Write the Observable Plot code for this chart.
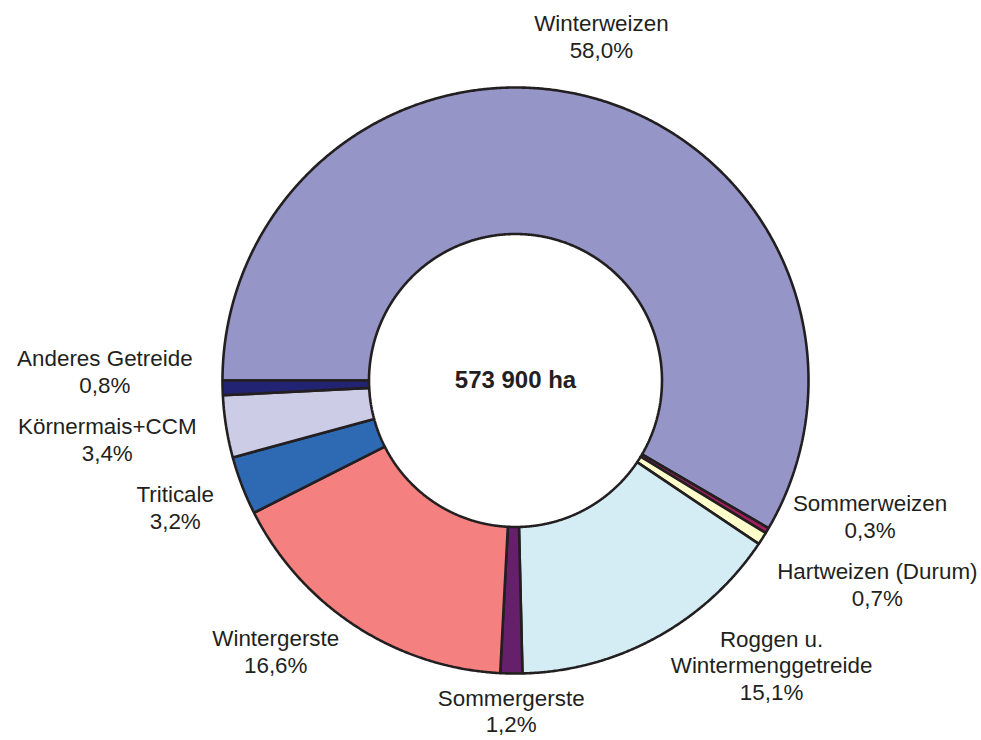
<!DOCTYPE html>
<html><head><meta charset="utf-8">
<script src="https://cdn.jsdelivr.net/npm/d3@7"></script>
<script src="https://cdn.jsdelivr.net/npm/@observablehq/plot@0.6"></script>
<style>
body{margin:0;background:#fff;}
#chart{width:981px;height:740px;}
</style>
</head><body><div id="chart"></div>
<script>
// ---- data ----
const categories = ["Winterweizen","Sommerweizen","Hartweizen (Durum)","Roggen u. Wintermenggetreide","Sommergerste","Wintergerste","Triticale","Körnermais+CCM","Anderes Getreide"];
const labelNames = ["Winterweizen","Sommerweizen","Hartweizen (Durum)","Roggen u.\nWintermenggetreide","Sommergerste","Wintergerste","Triticale","Körnermais+CCM","Anderes Getreide"];
const shares = [58.0, 0.3, 0.7, 15.1, 1.2, 16.6, 3.2, 3.4, 0.8];
const colors = ["#9595c8","#a0205f","#ffffcc","#d4ecf3","#66206b","#f48080","#2e69b4","#cdcce6","#232373"];
const totalLabel = ["573 900 ha"];

// ---- layout helpers ----
const W = 981, H = 740;
const mL = 222, mR = 173, mT = 87, mB = 67;
const pxPerUnit = (W - mL - mR) / 2;   // one unit = outer radius
const innerR = 0.5;
const fontSize = 22.4, lineH = 1.2;
const fontFamily = "'Liberation Sans', Arial, sans-serif";

const ctx = document.createElement("canvas").getContext("2d");
ctx.font = `${fontSize}px ${fontFamily}`;
const textWidth = t => Math.max(...t.split("\n").map(l => ctx.measureText(l).width));

const rows = categories.map((name, i) => ({name, label: labelNames[i], share: shares[i]}));
const arcs = d3.pie().sort(null).value(d => d.share)
  .startAngle(-Math.PI / 2).endAngle(3 * Math.PI / 2)(rows);

// ring polygons
const poly = [];
for (const a of arcs) {
  const n = Math.max(2, Math.ceil((a.endAngle - a.startAngle) / 0.005));
  for (let i = 0; i <= n; i++) {
    const t = a.startAngle + (a.endAngle - a.startAngle) * i / n;
    poly.push({name: a.data.name, x: Math.sin(t), y: Math.cos(t)});
  }
  for (let i = n; i >= 0; i--) {
    const t = a.startAngle + (a.endAngle - a.startAngle) * i / n;
    poly.push({name: a.data.name, x: innerR * Math.sin(t), y: innerR * Math.cos(t)});
  }
}

// labels: box placed outside along mid-angle, then spread vertically to avoid overlaps
const fmt = v => v.toFixed(1).replace(".", ",") + "%";
const xMinU = (4 - mL) / pxPerUnit - 1, xMaxU = (W - 4 - mL) / pxPerUnit - 1;
const labels = arcs.map(a => {
  const m = (a.startAngle + a.endAngle) / 2;
  const s = Math.sin(m), c = Math.cos(m);
  const side = s > 0.35 ? "right" : s < -0.35 ? "left" : (c > 0 ? "top" : "bottom");
  const text = a.data.label + "\n" + fmt(a.data.share);
  const lines = text.split("\n").length;
  const w = textWidth(text) / pxPerUnit, h = lines * fontSize * lineH / pxPerUnit;
  let gap, x, y;
  if (side === "right" || side === "left") {
    gap = 30 / pxPerUnit;
    x = (1 + gap) * s + Math.sign(s) * w / 2;
    y = (1 + gap) * c;
  } else {
    gap = (c > 0 ? 36 : 10) / pxPerUnit;
    x = (1 + gap) * s;
    y = (1 + gap) * c + Math.sign(c) * h / 2;
  }
  // keep the whole box inside the picture
  x = Math.min(Math.max(x, xMinU + w / 2), xMaxU - w / 2);
  return {text, side, lines, x, y};
});
for (const side of ["right", "left"]) {
  const group = labels.filter(d => d.side === side).sort((a, b) => b.y - a.y);
  for (let iter = 0; iter < 200; iter++) {
    for (let i = 0; i < group.length - 1; i++) {
      const p = group[i], q = group[i + 1];
      const need = ((p.lines + q.lines) / 2 * fontSize * lineH + 14) / pxPerUnit;
      const d = p.y - q.y;
      if (d < need) { const sh = (need - d) / 2; p.y += sh; q.y -= sh; }
    }
  }
}

const chart = Plot.plot({
  width: W, height: H,
  marginLeft: mL, marginRight: mR, marginTop: mT, marginBottom: mB,
  x: {domain: [-1, 1], axis: null},
  y: {domain: [-1, 1], axis: null},
  color: {domain: categories, range: colors},
  style: {fontFamily, background: "#fff"},
  marks: [
    Plot.line(poly, {x: "x", y: "y", z: "name", fill: "name", stroke: "#231f20", strokeWidth: 2.6, strokeLinejoin: "miter", curve: "linear-closed"}),
    Plot.text(labels, {x: "x", y: "y", text: "text", textAnchor: "middle", lineAnchor: "middle", fontSize, lineHeight: lineH, fill: "#231f20"}),
    Plot.text(totalLabel, {x: () => 0, y: () => 0, text: d => d, fontSize: 24, fontWeight: "bold", fill: "#231f20"})
  ]
});
document.getElementById("chart").appendChild(chart);
</script>
</body></html>
